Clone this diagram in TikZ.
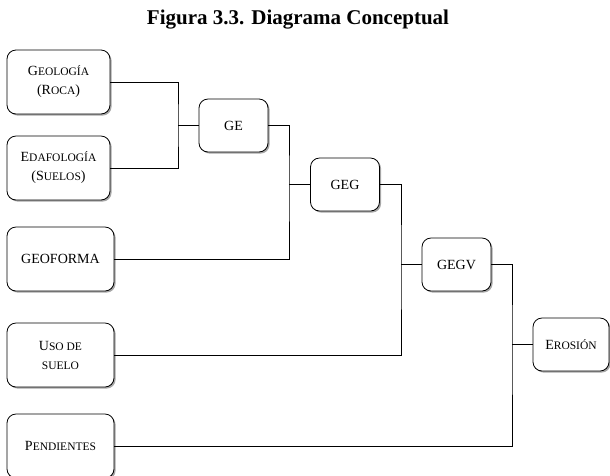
\documentclass[tikz,border=0pt]{standalone}
\usepackage{fontspec}
\setmainfont{Liberation Serif}
\usetikzlibrary{shadows, positioning}

% fake small caps: first letter full size, rest smaller
\newcommand{\fsc}[2]{#1{\fontsize{11.5}{19}\selectfont #2}}

\begin{document}
\begin{tikzpicture}[x=1pt, y=-1pt,
    caja/.style={draw, line width=0.8pt, rounded corners=9pt, fill=white, align=center,
        inner sep=2pt, font=\fontsize{14}{19}\selectfont,
        drop shadow={shadow xshift=1.6pt, shadow yshift=-1.6pt, fill=black, opacity=0.35}},
    izq/.style={caja, minimum width=103pt, minimum height=64pt},
    izqb/.style={caja, minimum width=107pt, minimum height=64pt},
    med/.style={caja, minimum width=69pt, minimum height=53pt},
    linea/.style={line width=0.8pt}]

    \useasboundingbox (0,0) rectangle (610,475);

    % --- Titulo ---
    \node[font=\fontsize{21}{24}\selectfont\bfseries] (titulo) at (298,20) {Figura 3.3. Diagrama Conceptual};

    % --- Factores ---
    \node[izq] (geol) at (58.5,82) {\fsc{G}{EOLOGÍA}\\(\fsc{R}{OCA})};
    \node[izq] (edaf) at (58.5,168) {\fsc{E}{DAFOLOGÍA}\\(\fsc{S}{UELOS})};
    \node[izqb] (geof) at (60.5,259) {GEOFORMA};
    \node[izqb] (uso) at (60.5,355) {\fsc{U}{SO DE}\\\fsc{}{SUELO}};
    \node[izqb] (pend) at (60.5,446) {\fsc{P}{ENDIENTES}};

    % --- Combinaciones ---
    \node[med] (ge) at (233.5,125.5) {GE};
    \node[med] (geg) at (345,184.5) {GEG};
    \node[med] (gegv) at (456.5,264.5) {GEGV};
    \node[med, minimum width=76pt] (eros) at (571,344.5) {\fsc{E}{ROSIÓN}};

    % --- Uniones ---
    \coordinate (u1) at (178,125.5);
    \coordinate (u2) at (289,184.5);
    \coordinate (u3) at (401,264.5);
    \coordinate (u4) at (512,344.5);

    \draw[linea] (geol.east) -| (u1) |- (edaf.east);
    \draw[linea] (u1) -- (ge.west);
    \draw[linea] (ge.east) -| (u2) |- (geof.east);
    \draw[linea] (u2) -- (geg.west);
    \draw[linea] (geg.east) -| (u3) |- (uso.east);
    \draw[linea] (u3) -- (gegv.west);
    \draw[linea] (gegv.east) -| (u4) |- (pend.east);
    \draw[linea] (u4) -- (eros.west);

\end{tikzpicture}
\end{document}
